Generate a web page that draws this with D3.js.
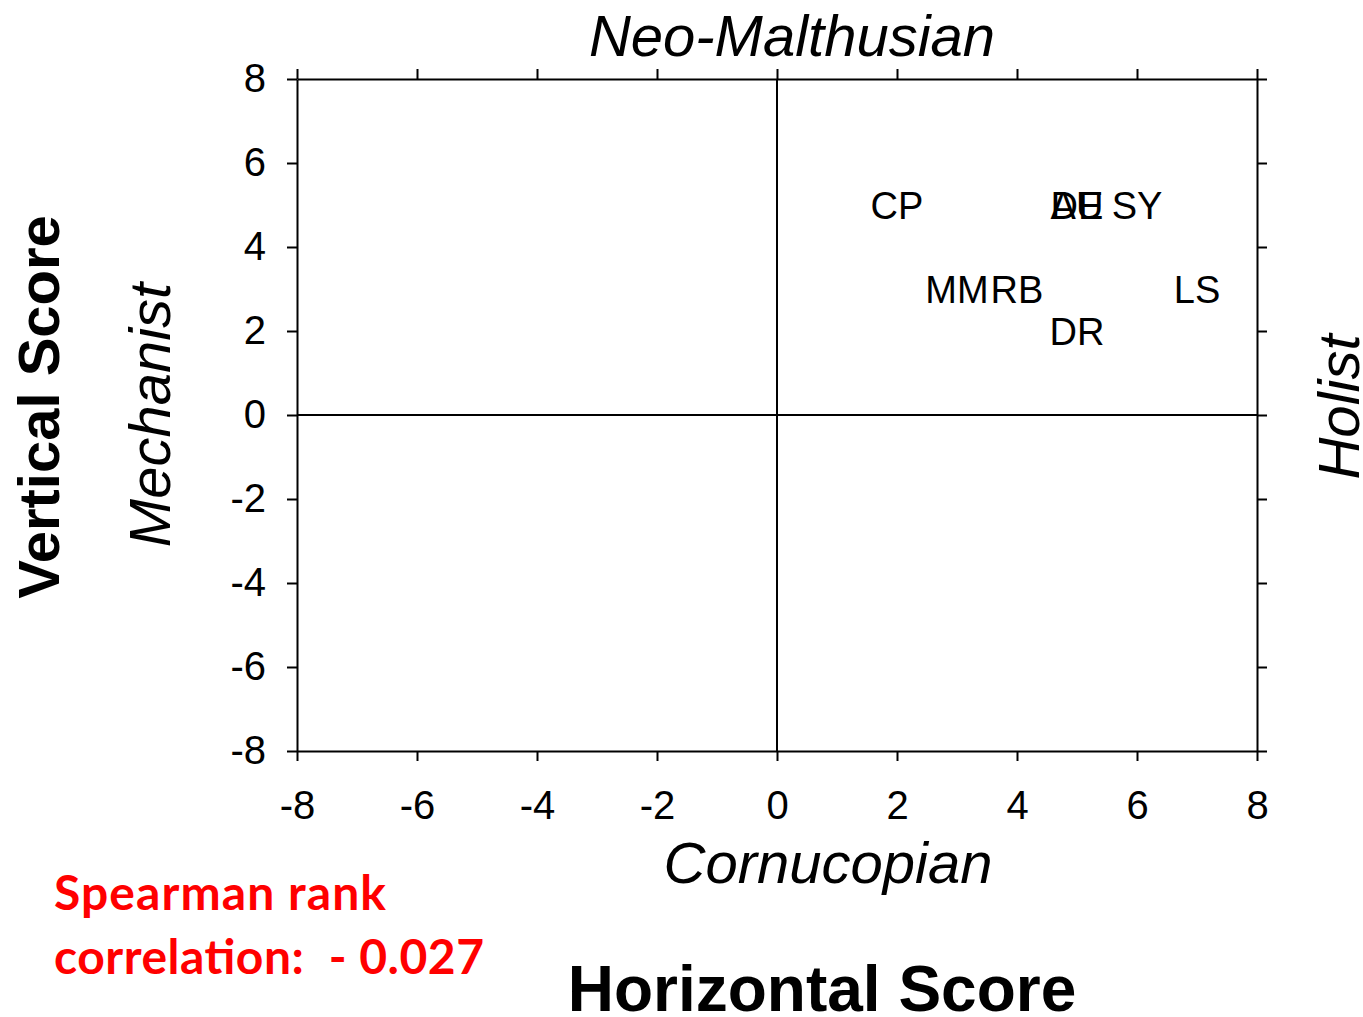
<!DOCTYPE html>
<html>
<head>
<meta charset="utf-8">
<title>Horizontal vs Vertical Score</title>
<style>
  body { margin: 0; background: #fff; }
  svg text { font-family: "Liberation Sans", Arial, sans-serif; fill: #000; }
  .tick text { font-size: 40px; }
  .lbl { font-size: 38px; }
  .note { font-family: Lato, "Open Sans", sans-serif !important; font-weight: bold; font-size: 48px; fill: #ff0000 !important; white-space: pre; }
</style>
</head>
<body>
<svg width="1363" height="1017"></svg>
<script src="https://d3js.org/d3.v7.min.js"></script>
<script>
// point labels and their scores
var labels = ["CP", "AU", "DE", "SY", "MM", "RB", "LS", "DR"];
var horizontal = [2, 5, 5, 6, 3, 4, 7, 5];
var vertical = [5, 5, 5, 5, 3, 3, 3, 2];
var tickValues = [-8, -6, -4, -2, 0, 2, 4, 6, 8];

var svg = d3.select("svg");
var plotLeft = 297, plotRight = 1257, plotTop = 79, plotBottom = 751;

var x = d3.scaleLinear().domain([-8, 8]).range([plotLeft, plotRight]);
var y = d3.scaleLinear().domain([-8, 8]).range([plotBottom, plotTop]);

function styleAxis(g) {
  g.selectAll("path, line").attr("stroke", "#000").attr("stroke-width", 2);
  g.selectAll("text").attr("fill", "#000").style("font-family", "Liberation Sans, Arial, sans-serif");
}

svg.append("g")
  .attr("transform", "translate(0," + plotBottom + ")")
  .call(d3.axisBottom(x).tickValues(tickValues).tickSize(10).tickSizeOuter(0).tickPadding(30)
    .tickFormat(function(d) { return d < 0 ? "-" + Math.abs(d) : d; }))
  .call(styleAxis);

svg.append("g")
  .attr("transform", "translate(0," + plotTop + ")")
  .call(d3.axisTop(x).tickValues(tickValues).tickSize(10).tickSizeOuter(0).tickFormat(""))
  .call(styleAxis);

svg.append("g")
  .attr("transform", "translate(" + plotLeft + ",0)")
  .call(d3.axisLeft(y).tickValues(tickValues).tickSize(10).tickSizeOuter(0).tickPadding(21)
    .tickFormat(function(d) { return d < 0 ? "-" + Math.abs(d) : d; }))
  .call(styleAxis);

svg.append("g")
  .attr("transform", "translate(" + plotRight + ",0)")
  .call(d3.axisRight(y).tickValues(tickValues).tickSize(10).tickSizeOuter(0).tickFormat(""))
  .call(styleAxis);

// zero lines
svg.append("line").attr("x1", x(0)).attr("x2", x(0)).attr("y1", plotTop).attr("y2", plotBottom)
  .attr("stroke", "#000").attr("stroke-width", 2);
svg.append("line").attr("x1", plotLeft).attr("x2", plotRight).attr("y1", y(0)).attr("y2", y(0))
  .attr("stroke", "#000").attr("stroke-width", 2);

// point labels
svg.selectAll(".lbl")
  .data(labels)
  .enter()
  .append("text")
  .attr("class", "lbl")
  .attr("x", function(d, i) { return x(horizontal[i]); })
  .attr("y", function(d, i) { return y(vertical[i]); })
  .attr("text-anchor", "middle")
  .attr("dy", "0.36em")
  .text(function(d) { return d; });

// quadrant titles
svg.append("text").attr("x", 792).attr("y", 56).attr("text-anchor", "middle")
  .style("font-size", "58px").style("font-style", "italic").text("Neo-Malthusian");
svg.append("text").attr("x", 828).attr("y", 883).attr("text-anchor", "middle")
  .style("font-size", "58px").style("font-style", "italic").text("Cornucopian");
svg.append("text").attr("transform", "translate(170,415) rotate(-90)").attr("text-anchor", "middle")
  .style("font-size", "58px").style("font-style", "italic").text("Mechanist");
svg.append("text").attr("transform", "translate(1359,407) rotate(-90)").attr("text-anchor", "middle")
  .style("font-size", "58px").style("font-style", "italic").text("Holist");

// axis titles
svg.append("text").attr("x", 822).attr("y", 1011).attr("text-anchor", "middle")
  .style("font-size", "64px").style("font-weight", "bold").text("Horizontal Score");
svg.append("text").attr("transform", "translate(59,407) rotate(-90)").attr("text-anchor", "middle")
  .style("font-size", "58px").style("font-weight", "bold").text("Vertical Score");

// correlation note
svg.append("text").attr("class", "note").attr("x", 54).attr("y", 910)
  .attr("textLength", 332).attr("lengthAdjust", "spacing").text("Spearman rank");
svg.append("text").attr("class", "note").attr("x", 54).attr("y", 974)
  .attr("textLength", 430).attr("lengthAdjust", "spacing").text("correlation:  - 0.027");
</script>
</body>
</html>
